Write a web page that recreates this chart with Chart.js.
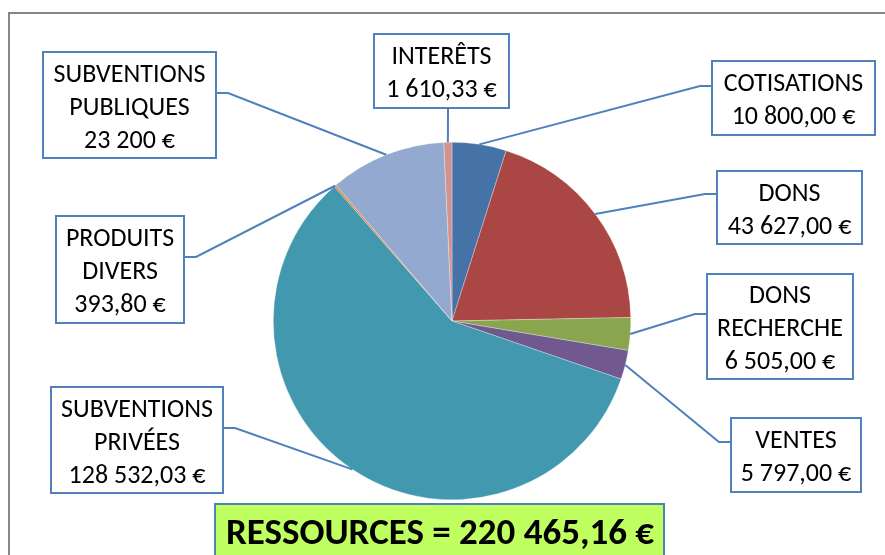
<!DOCTYPE html>
<html>
<head>
<meta charset="utf-8">
<script src="https://cdn.jsdelivr.net/npm/chart.js@4.4.0/dist/chart.umd.min.js"></script>
<style>
  html, body { margin: 0; padding: 0; background: #fff; overflow: hidden; }
  #wrap { position: relative; width: 885px; height: 555px; }
</style>
</head>
<body>
<div id="wrap"><canvas id="pie" width="885" height="555"></canvas></div>
<script>
// Ressources - pie with boxed callouts

const categories = [
  ['COTISATIONS'],
  ['DONS'],
  ['DONS', 'RECHERCHE'],
  ['VENTES'],
  ['SUBVENTIONS', 'PRIVÉES'],
  ['PRODUITS', 'DIVERS'],
  ['SUBVENTIONS', 'PUBLIQUES'],
  ['INTERÊTS']
];
const values = [10800.00, 43627.00, 6505.00, 5797.00, 128532.03, 393.80, 23200, 1610.33];
const decimals = [2, 2, 2, 2, 2, 2, 0, 2];
const colors = ['#4572A7', '#AA4643', '#89A54E', '#71588F', '#4198AF', '#DB843D', '#93A9CF', '#D19392'];
const totalLabel = 'RESSOURCES';

// callout boxes: x, y, w, h, side the leader leaves from, y (or x) of the stub
const boxes = [
  { x: 712, y: 61,  w: 163, h: 74,  side: 'left',   at: 86 },
  { x: 717, y: 171, w: 145, h: 73,  side: 'left',   at: 194 },
  { x: 707, y: 274, w: 146, h: 105, side: 'left',   at: 314 },
  { x: 731, y: 418, w: 130, h: 74,  side: 'left',   at: 442 },
  { x: 51,  y: 387, w: 172, h: 106, side: 'right',  at: 428 },
  { x: 56,  y: 216, w: 128, h: 107, side: 'right',  at: 257 },
  { x: 43,  y: 52,  w: 173, h: 106, side: 'right',  at: 93 },
  { x: 374, y: 34,  w: 135, h: 74,  side: 'bottom', at: 448 }
];

const FONT = 'Carlito, Lato, "Noto Sans", sans-serif';

function fmt(v, dec) {
  const s = v.toFixed(dec);
  const parts = s.split('.');
  const int = parts[0].replace(/\B(?=(\d{3})+(?!\d))/g, ' ');
  return (parts[1] ? int + ',' + parts[1] : int) + ' €';
}

const total = values.reduce((a, b) => a + b, 0);

const calloutPlugin = {
  id: 'callouts',
  afterDraw(chart) {
    const ctx = chart.ctx;
    const meta = chart.getDatasetMeta(0);
    ctx.save();

    // outer frame
    ctx.strokeStyle = '#868686';
    ctx.lineWidth = 2;
    ctx.strokeRect(9, 13, 900, 600);

    meta.data.forEach((arc, i) => {
      const b = boxes[i];
      const mid = (arc.startAngle + arc.endAngle) / 2;
      const px = arc.x + Math.cos(mid) * arc.outerRadius;
      const py = arc.y + Math.sin(mid) * arc.outerRadius;

      // leader line
      ctx.strokeStyle = '#4F81BD';
      ctx.lineWidth = 2;
      ctx.beginPath();
      if (b.side === 'left') {
        ctx.moveTo(b.x, b.at);
        ctx.lineTo(b.x - 12, b.at);
      } else if (b.side === 'right') {
        ctx.moveTo(b.x + b.w, b.at);
        ctx.lineTo(b.x + b.w + 12, b.at);
      } else {
        ctx.moveTo(b.at, b.y + b.h);
      }
      ctx.lineTo(px, py);
      ctx.stroke();

      // box
      ctx.fillStyle = '#fff';
      ctx.fillRect(b.x, b.y, b.w, b.h);
      ctx.strokeStyle = '#4F81BD';
      ctx.lineWidth = 2;
      ctx.strokeRect(b.x, b.y, b.w, b.h);

      // text
      const lines = categories[i].concat([fmt(values[i], decimals[i])]);
      const lh = 33;
      ctx.fillStyle = '#000';
      ctx.font = '26px ' + FONT;
      ctx.textAlign = 'center';
      ctx.textBaseline = 'middle';
      const cy = b.y + b.h / 2 - (lines.length - 1) * lh / 2 + 3;
      lines.forEach((t, k) => ctx.fillText(t, b.x + b.w / 2, cy + k * lh));
    });

    // total box
    ctx.fillStyle = '#BFFF5F';
    ctx.fillRect(215, 504, 449, 60);
    ctx.strokeStyle = '#4F81BD';
    ctx.lineWidth = 2;
    ctx.strokeRect(215, 504, 449, 60);
    ctx.fillStyle = '#000';
    ctx.font = 'bold 37px ' + FONT;
    ctx.textAlign = 'center';
    ctx.textBaseline = 'alphabetic';
    ctx.fillText(totalLabel + ' = ' + fmt(total, 2), 440, 544);

    ctx.restore();
  }
};

new Chart(document.getElementById('pie'), {
  type: 'pie',
  data: {
    labels: categories.map(c => c.join(' ')),
    datasets: [{
      data: values,
      backgroundColor: colors,
      borderColor: 'rgba(255,255,255,0.6)',
      borderWidth: 0.5
    }]
  },
  options: {
    responsive: false,
    animation: false,
    layout: { padding: { top: 142, bottom: 55, left: 272, right: 253 } },
    plugins: { legend: { display: false }, tooltip: { enabled: false } }
  },
  plugins: [calloutPlugin]
});
</script>
</body>
</html>
